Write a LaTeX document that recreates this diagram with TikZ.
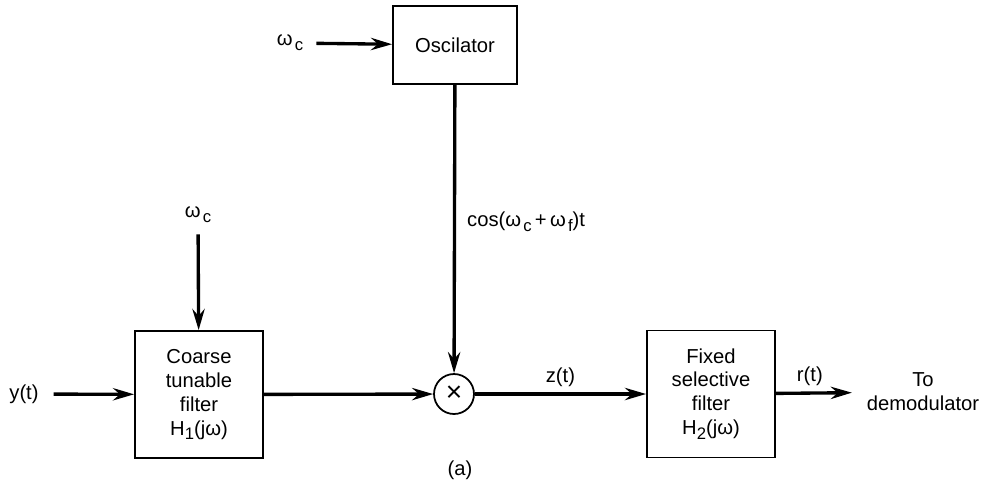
\documentclass[tikz,border=0pt]{standalone}
\usepackage{fontspec}
\setmainfont{Liberation Sans}
\usetikzlibrary{arrows.meta}
\newcommand{\lowsub}[1]{\raisebox{-0.45ex}{\fontsize{9.5}{10}\selectfont #1}}
\newcommand{\wsub}[1]{ω\kern1.2pt\lowsub{#1}}

\begin{document}
\begin{tikzpicture}[x=0.02cm, y=-0.02cm,
        font=\fontsize{11.5}{13.6}\selectfont,
        block/.style={rectangle, draw, line width=1.1pt, minimum width=2.56cm, minimum height=2.54cm, align=center},
        mixer/.style={circle, draw, line width=1pt, minimum size=0.8cm, inner sep=0pt},
        signal/.style={-{Stealth[length=12pt, width=7pt, inset=4pt]}, line width=1.9pt}
    ]
        \useasboundingbox (0,0) rectangle (989,488);
        \node[block, minimum width=2.48cm, minimum height=1.56cm] (osc) at (455,45) {Oscilator};
        \node[block] (coarse) at (199,394.5) {Coarse\\tunable\\filter\\H\lowsub{1}(jω)};
        \node[mixer, font=\fontsize{16}{16}\selectfont] (mul) at (454,394) {×};
        \node[block] (fixed) at (711,394) {Fixed\\selective\\filter\\H\lowsub{2}(jω)};
        \node (wtop) at (290,43) {\wsub{c}};
        \node (wleft) at (198,215) {\wsub{c}};
        \node (yin) at (24,394) {y(t)};
        \node[align=center] (demod) at (923,392) {To\\demodulator};
        \node[anchor=west] (coslabel) at (461,222) {cos(\wsub{c}\,+\,\wsub{f})t};
        \node (caption) at (460,470) {(a)};

        \draw[signal, shorten <=4pt] (wtop) -- (osc);
        \draw[signal, shorten <=3pt] (wleft) -- (coarse);
        \draw[signal] (osc) -- (mul);
        \draw[signal, shorten <=5pt] (yin) -- (coarse);
        \draw[signal] (coarse) -- (mul);
        \draw[signal] (mul) -- node[above] (zlabel) {z(t)} (fixed);
        \draw[signal, shorten >=5pt] (fixed) -- node[above, pos=0.4] (rlabel) {r(t)} (demod);
    \end{tikzpicture}
\end{document}
